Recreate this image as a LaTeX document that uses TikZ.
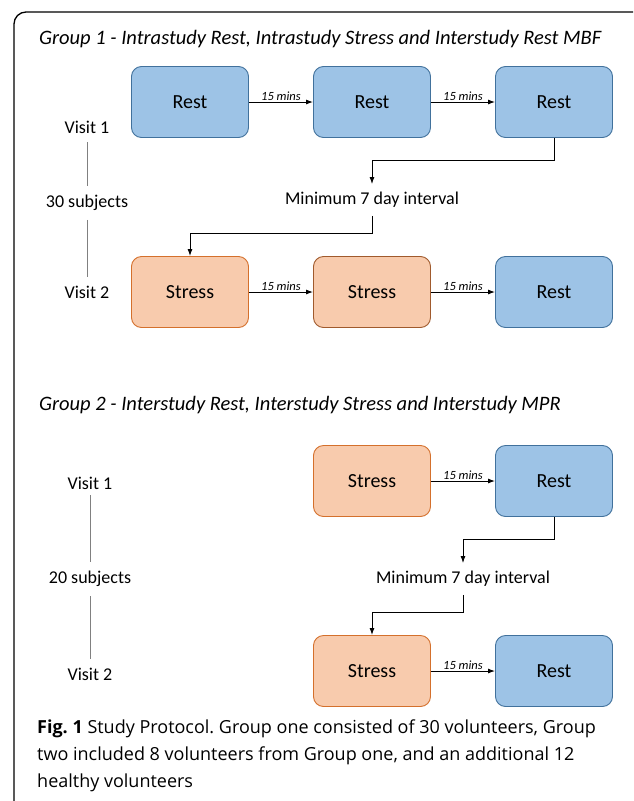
\documentclass[tikz,border=0pt]{standalone}
\usepackage{fontspec}
\setmainfont{Carlito}
\newfontfamily\capfont{Open Sans}
\usepackage{xcolor}
\usetikzlibrary{arrows.meta}

\definecolor{restfill}{RGB}{157,195,230}
\definecolor{restline}{RGB}{65,113,156}
\definecolor{stressfill}{RGB}{248,203,173}
\definecolor{stressline}{RGB}{212,112,44}
\definecolor{stressdark}{RGB}{160,90,45}

\tikzset{
	restbox/.style = {draw = restline, fill = restfill, rounded corners = 10, minimum width = 117, minimum height = 71, line width = 0.9, font = \fontsize{20}{24}\selectfont},
	stressbox/.style = {restbox, draw = stressline, fill = stressfill},
	flow/.style = {line width = 1, -{Latex[length = 7, width = 5]}},
	minslabel/.style = {midway, above, inner sep = 1, font = \fontsize{12.5}{14}\selectfont\itshape},
	visit/.style = {inner sep = 9, font = \fontsize{18}{22}\selectfont},
	visitline/.style = {draw = gray, line width = 0.8},
	gaptext/.style = {inner sep = 8, font = \fontsize{18}{22}\selectfont},
	grouptitle/.style = {inner sep = 0, font = \fontsize{20.5}{24}\selectfont\itshape},
	figcaption/.style = {align = left, inner sep = 0, font = \capfont\fontsize{18}{27}\selectfont\frenchspacing}
}

\begin{document}
\begin{tikzpicture}[x = 1pt, y = -1pt]
	\def\xa{190};
	\def\xb{372};
	\def\xc{554};
	\def\xv{87};

	\useasboundingbox (0,0) rectangle (633,801);
	\clip (0,0) rectangle (633,801);
	\draw [line width = 1.3, rounded corners = 12] (14,12) rectangle (660,822);

	% group 1
	\begin{scope}
		\node [grouptitle, anchor = base west] (T1) at (39,44) {Group 1 - Intrastudy Rest, Intrastudy Stress and Interstudy Rest MBF};

		\node [restbox] (A1) at (\xa,102) {Rest};
		\node [restbox] (A2) at (\xb,102) {Rest};
		\node [restbox] (A3) at (\xc,102) {Rest};

		\node [gaptext] (G1) at (\xb,200) {Minimum 7 day interval};

		\node [stressbox] (B1) at (\xa,292) {Stress};
		\node [stressbox, draw = stressdark] (B2) at (\xb,292) {Stress};
		\node [restbox] (B3) at (\xc,292) {Rest};

		\draw [flow] (A1) -- (A2) node [minslabel] {15 mins};
		\draw [flow] (A2) -- (A3) node [minslabel] {15 mins};
		\draw [flow] (A3.south) -- ++(0,23) -| (G1.north);
		\draw [flow] (G1.south) -- ++(0,18) -| (B1.north);
		\draw [flow] (B1) -- (B2) node [minslabel] {15 mins};
		\draw [flow] (B2) -- (B3) node [minslabel] {15 mins};

		\node [visit] (V11) at (\xv,127) {Visit 1};
		\node [visit] (N1) at (\xv,203) {30 subjects};
		\node [visit] (V12) at (\xv,292) {Visit 2};
		\draw [visitline] (V11) -- (N1);
		\draw [visitline] (N1) -- (V12);
	\end{scope}

	% group 2
	\begin{scope}
		\node [grouptitle, anchor = base west] (T2) at (39,410) {Group 2 - Interstudy Rest, Interstudy Stress and Interstudy MPR};

		\node [stressbox] (C2) at (\xb,481) {Stress};
		\node [restbox] (C3) at (\xc,481) {Rest};

		\node [gaptext] (G2) at (463,579) {Minimum 7 day interval};

		\node [stressbox] (D2) at (\xb,671) {Stress};
		\node [restbox] (D3) at (\xc,671) {Rest};

		\draw [flow] (C2) -- (C3) node [minslabel] {15 mins};
		\draw [flow] (C3.south) -- ++(0,23) -| (G2.north);
		\draw [flow] (G2.south) -- ++(0,18) -| (D2.north);
		\draw [flow] (D2) -- (D3) node [minslabel] {15 mins};

		\node [visit, inner sep = 6] (V21) at (90,483) {Visit 1};
		\node [visit] (N2) at (90,579) {20 subjects};
		\node [visit] (V22) at (90,674) {Visit 2};
		\draw [visitline] (V21) -- (N2);
		\draw [visitline] (N2) -- (V22);
	\end{scope}

	\node [figcaption, anchor = north west] (cap) at (37,720) {\textbf{Fig. 1} Study Protocol. Group one consisted of 30 volunteers, Group\\two included 8 volunteers from Group one, and an additional 12\\healthy volunteers};
\end{tikzpicture}
\end{document}
